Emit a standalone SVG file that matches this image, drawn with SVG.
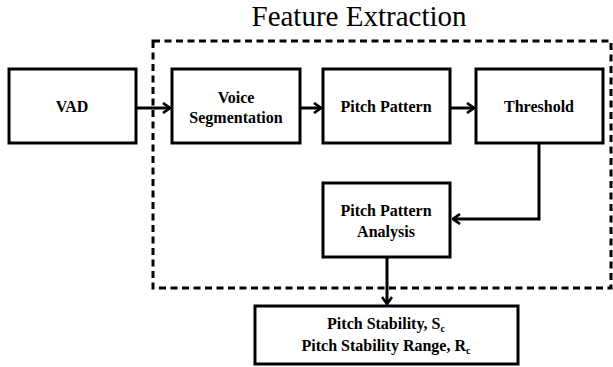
<svg xmlns="http://www.w3.org/2000/svg" width="613" height="367" viewBox="0 0 613 367">
<style>
.box{fill:#fff;stroke:#000;stroke-width:3}
.t{font-family:"Liberation Serif","Times New Roman",serif;font-weight:bold;font-size:16px;text-anchor:middle;fill:#000}
.c{fill:none;stroke:#000;stroke-width:3}
</style>
<defs>
<marker id="ah" viewBox="0 0 10 12" refX="9" refY="6" markerWidth="10" markerHeight="12" markerUnits="userSpaceOnUse" orient="auto">
<path d="M2,1 L9,6 L2,11" fill="none" stroke="#000" stroke-width="2.6"/>
</marker>
</defs>
<rect width="613" height="367" fill="#fff"/>
<text x="359" y="26" font-family="Liberation Serif,'Times New Roman',serif" font-size="29" text-anchor="middle">Feature Extraction</text>
<rect id="feature-extraction" x="153" y="41" width="458" height="247" fill="none" stroke="#000" stroke-width="3" stroke-dasharray="7,4.5"/>
<g id="vad"><rect class="box" x="9" y="69" width="127" height="74"/><text class="t" x="72" y="112">VAD</text></g>
<g id="voice-segmentation"><rect class="box" x="172" y="69" width="128" height="74"/><text class="t" x="236" y="103">Voice</text><text class="t" x="236" y="123">Segmentation</text></g>
<g id="pitch-pattern"><rect class="box" x="323" y="69" width="127" height="74"/><text class="t" x="386" y="112">Pitch Pattern</text></g>
<g id="threshold"><rect class="box" x="476" y="69" width="127" height="74"/><text class="t" x="539" y="112">Threshold</text></g>
<g id="pitch-pattern-analysis"><rect class="box" x="323" y="183" width="127" height="74"/><text class="t" x="386" y="216">Pitch Pattern</text><text class="t" x="386" y="237">Analysis</text></g>
<g id="pitch-stability"><rect class="box" x="255" y="306" width="263" height="58"/>
<text class="t" x="386" y="329">Pitch Stability, S<tspan font-size="10" dy="3">c</tspan></text>
<text class="t" x="386" y="351">Pitch Stability Range, R<tspan font-size="10" dy="3">c</tspan></text></g>
<g id="connectors">
<line class="c" x1="136" y1="108" x2="170" y2="108" marker-end="url(#ah)"/>
<line class="c" x1="300" y1="108" x2="321" y2="108" marker-end="url(#ah)"/>
<line class="c" x1="450" y1="108" x2="474" y2="108" marker-end="url(#ah)"/>
<polyline class="c" points="539,143 539,219 453,219" marker-end="url(#ah)"/>
<line class="c" x1="387" y1="257" x2="387" y2="304" marker-end="url(#ah)"/>
</g>
</svg>
